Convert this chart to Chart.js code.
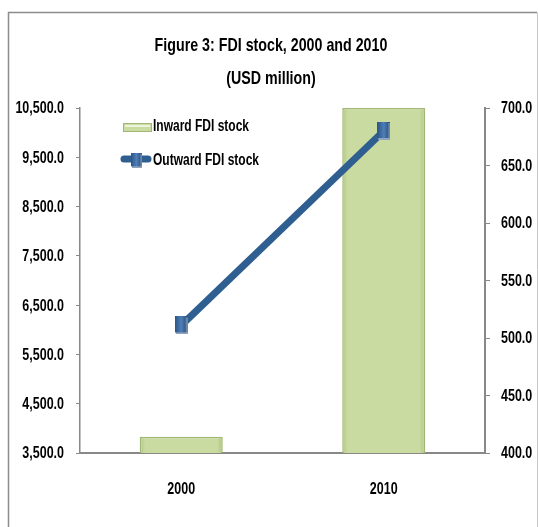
<!DOCTYPE html>
<html>
<head>
<meta charset="utf-8">
<style>
  html, body { margin: 0; padding: 0; background: #ffffff; }
  #wrap { width: 538px; height: 527px; }
</style>
<script src="https://cdn.jsdelivr.net/npm/chart.js@4/dist/chart.umd.min.js"></script>
</head>
<body>
<div id="wrap"><canvas id="fdi" width="538" height="527"></canvas></div>
<script>
// FDI stock, 2000 and 2010 (USD million)
const years = ['2000', '2010'];
const inwardStock = [3830, 10500];   // left axis
const outwardStock = [511, 680];     // right axis
const titleLines = ['Figure 3: FDI stock, 2000 and 2010', '(USD million)'];
const seriesNames = ['Inward FDI stock', 'Outward FDI stock'];

const FONT = '"Liberation Sans", Arial, sans-serif';
const NARROW = 0.78;                 // horizontal squeeze for a condensed look
const AXIS_GREY = '#888888';
const BAR_FILL = '#CBDCA3';
const BAR_EDGE = '#A2B775';
const LINE_BLUE = '#2F5E90';

const fmt1 = v => Number(v).toLocaleString('en-US', { minimumFractionDigits: 1, maximumFractionDigits: 1 });

// bold condensed text: measured and squeezed horizontally
function narrowText(ctx, text, x, y, align, size, sx) {
  ctx.save();
  ctx.font = 'bold ' + size + 'px ' + FONT;
  ctx.textAlign = 'left';
  ctx.textBaseline = 'middle';
  ctx.fillStyle = '#000000';
  const w = ctx.measureText(text).width * sx;
  const left = align === 'center' ? x - w / 2 : align === 'right' ? x - w : x;
  ctx.translate(left, y);
  ctx.scale(sx, 1);
  ctx.fillText(text, 0, 0);
  ctx.restore();
}

// bevelled marker used for the outward series
function makeMarker() {
  const c = document.createElement('canvas');
  c.width = 13; c.height = 18;
  const g = c.getContext('2d');
  const grd = g.createLinearGradient(0, 0, 13, 0);
  grd.addColorStop(0, '#2A5487');
  grd.addColorStop(0.5, '#4F7FB6');
  grd.addColorStop(1, '#244A78');
  g.fillStyle = grd;
  g.fillRect(0, 0, 13, 16);
  g.fillStyle = '#8EA3BC';
  g.fillRect(1, 16, 12, 2);
  g.fillStyle = '#6E86A6';
  g.fillRect(11, 1, 2, 15);
  return c;
}
const marker = makeMarker();

// soft darker edges on each bar, built from the x scale's pixel for that category
function barShade(context) {
  const chart = context.chart;
  const xs = chart.scales.x;
  if (!xs || context.dataIndex === undefined) return BAR_FILL;
  const cx = xs.getPixelForValue(context.dataIndex);
  const half = (xs.width / chart.data.labels.length) * 0.41 / 2;
  if (!Number.isFinite(cx) || !Number.isFinite(half) || half <= 0) return BAR_FILL;
  const g = chart.ctx.createLinearGradient(cx - half, 0, cx + half, 0);
  g.addColorStop(0, '#B3C887');
  g.addColorStop(0.07, '#CADBA2');
  g.addColorStop(0.93, '#CADBA2');
  g.addColorStop(1, '#AFC483');
  return g;
}

const framePlugin = {
  id: 'frame',
  beforeDraw(chart) {
    const ctx = chart.ctx;
    ctx.save();
    ctx.fillStyle = '#ffffff';
    ctx.fillRect(0, 0, chart.width, chart.height);
    ctx.lineWidth = 1.5;
    ctx.strokeStyle = '#8C8C8C';
    ctx.beginPath();
    ctx.moveTo(8.5, chart.height);
    ctx.lineTo(8.5, 12.5);
    ctx.lineTo(537, 12.5);
    ctx.stroke();
    ctx.strokeStyle = '#C8C8C8';
    ctx.lineWidth = 1;
    ctx.beginPath();
    ctx.moveTo(537.5, 12.5);
    ctx.lineTo(537.5, chart.height);
    ctx.stroke();
    ctx.restore();
  }
};

// axis labels come from each scale's own ticks and pixel mapping
const tickTextPlugin = {
  id: 'tickText',
  afterDraw(chart) {
    const ctx = chart.ctx;
    const { x, y, y1 } = chart.scales;
    y.ticks.forEach((t, i) => {
      narrowText(ctx, fmt1(t.value), y.right - 16, y.getPixelForTick(i) + 1, 'right', 16, NARROW);
    });
    y1.ticks.forEach((t, i) => {
      narrowText(ctx, fmt1(t.value), y1.left + 16, y1.getPixelForTick(i) + 1, 'left', 16, NARROW);
    });
    x.ticks.forEach((t, i) => {
      narrowText(ctx, String(x.getLabelForValue(t.value)), x.getPixelForTick(i), x.top + 37, 'center', 16, NARROW);
    });
  }
};

const headingPlugin = {
  id: 'heading',
  afterDraw(chart) {
    const ctx = chart.ctx;
    narrowText(ctx, titleLines[0], 271, 46, 'center', 18.5, 0.77);
    narrowText(ctx, titleLines[1], 271, 79, 'center', 18.5, 0.77);
  }
};

const keyPlugin = {
  id: 'key',
  afterDraw(chart) {
    const ctx = chart.ctx;
    const ds = chart.data.datasets;
    const bar = ds.find(d => d.type === 'bar');
    const line = ds.find(d => d.type === 'line');
    ctx.save();
    // bar swatch
    ctx.fillStyle = BAR_FILL;
    ctx.fillRect(123, 123, 29, 9);
    ctx.strokeStyle = BAR_EDGE;
    ctx.lineWidth = 1;
    ctx.strokeRect(123.5, 123.5, 28, 8);
    ctx.fillStyle = '#EEF4DC';
    ctx.fillRect(125, 125, 25, 2);
    // line swatch
    ctx.strokeStyle = line.borderColor;
    ctx.lineWidth = 7;
    ctx.lineCap = 'round';
    ctx.beginPath();
    ctx.moveTo(124, 159);
    ctx.lineTo(148, 159);
    ctx.stroke();
    ctx.drawImage(marker, 131, 153, 11, 15);
    ctx.restore();
    narrowText(ctx, bar.label, 153, 127, 'left', 16, 0.75);
    narrowText(ctx, line.label, 153, 161, 'left', 16, 0.75);
  }
};

new Chart(document.getElementById('fdi'), {
  data: {
    labels: years,
    datasets: [
      {
        type: 'line',
        label: seriesNames[1],
        data: outwardStock,
        yAxisID: 'y1',
        borderColor: LINE_BLUE,
        backgroundColor: LINE_BLUE,
        borderWidth: 7,
        pointStyle: marker,
        pointRadius: 8,
        tension: 0,
        order: 0
      },
      {
        type: 'bar',
        label: seriesNames[0],
        data: inwardStock,
        yAxisID: 'y',
        backgroundColor: barShade,
        borderColor: BAR_EDGE,
        borderWidth: 1.5,
        barPercentage: 0.41,
        categoryPercentage: 1,
        order: 1
      }
    ]
  },
  options: {
    responsive: false,
    animation: false,
    layout: { padding: { top: 108, left: 0, right: 0, bottom: 0 } },
    plugins: {
      legend: { display: false },
      title: { display: false },
      tooltip: { enabled: false }
    },
    scales: {
      x: {
        offset: true,
        grid: { display: false, drawTicks: false },
        border: { display: true, color: AXIS_GREY, width: 2 },
        ticks: { display: false },
        afterFit(s) { s.height = 74; }
      },
      y: {
        position: 'left',
        min: 3500,
        max: 10500,
        ticks: { stepSize: 1000, display: false },
        grid: { drawOnChartArea: false, drawTicks: true, tickLength: 4, color: AXIS_GREY },
        border: { display: true, color: AXIS_GREY, width: 1.5 },
        afterFit(s) { s.width = 80; }
      },
      y1: {
        position: 'right',
        min: 400,
        max: 700,
        ticks: { stepSize: 50, display: false },
        grid: { drawOnChartArea: false, drawTicks: true, tickLength: 5, color: AXIS_GREY },
        border: { display: true, color: AXIS_GREY, width: 2 },
        afterFit(s) { s.width = 53; }
      }
    }
  },
  plugins: [framePlugin, tickTextPlugin, headingPlugin, keyPlugin]
});
</script>
</body>
</html>
